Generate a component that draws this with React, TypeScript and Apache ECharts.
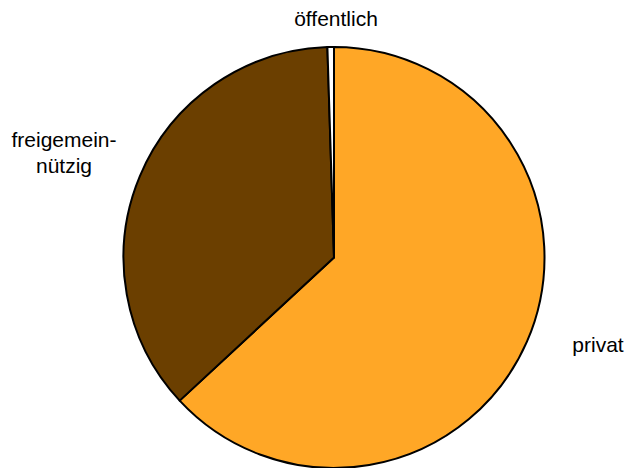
import React, { useEffect, useRef } from "react";
import * as echarts from "echarts";

const categories = ["privat", "freigemeinnützig", "öffentlich"];
const labelTexts = ["privat", "freigemein-\nnützig", "öffentlich"];
const values = [63.1, 36.4, 0.5];
const colors = ["#FFA726", "#6B3F00", "#FFFFFF"];

// label placement (layout only)
const labelPos = [
  { x: 598, y: 344 },
  { x: 64, y: 152 },
  { x: 336, y: 18 },
];

export default function App() {
  const ref = useRef<HTMLDivElement>(null);
  useEffect(() => {
    if (!ref.current) return;
    const chart = echarts.init(ref.current, undefined, { renderer: "svg" });
    chart.setOption({
      animation: false,
      backgroundColor: "#ffffff",
      series: [
        {
          type: "pie",
          center: [334, 257.5],
          radius: [0, 210.5],
          startAngle: 90,
          clockwise: true,
          avoidLabelOverlap: false,
          data: categories.map((name, i) => ({
            name,
            value: values[i],
            itemStyle: { color: colors[i] },
            label: { formatter: labelTexts[i] },
          })),
          itemStyle: { borderColor: "#000000", borderWidth: 2 },
          label: {
            show: true,
            position: "outside",
            color: "#000000",
            fontFamily: "Liberation Sans, Arial, sans-serif",
            fontSize: 21,
            lineHeight: 26,
            align: "center",
          },
          labelLine: { show: false },
          labelLayout: (params: any) => {
            const p = labelPos[params.dataIndex];
            return { x: p.x, y: p.y, align: "center", verticalAlign: "middle" };
          },
          emphasis: { disabled: true },
        },
      ],
    });
    return () => chart.dispose();
  }, []);
  return (
    <div
      ref={ref}
      style={{ position: "fixed", left: 0, top: 0, width: 627, height: 468 }}
    />
  );
}
